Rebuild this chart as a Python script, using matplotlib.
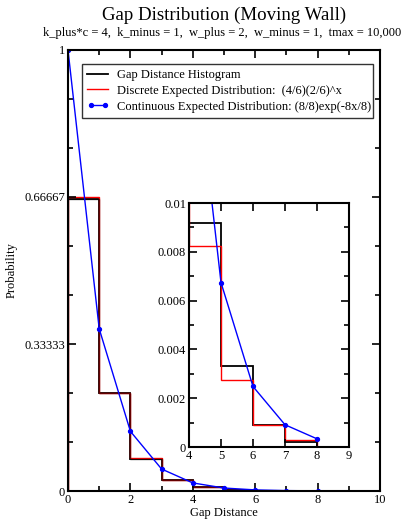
import matplotlib
matplotlib.use("Agg")
import matplotlib.pyplot as plt
from matplotlib.ticker import FixedLocator, MultipleLocator

plt.rcParams['font.family'] = ['Liberation Serif', 'DejaVu Serif']

edges = [0, 1, 2, 3, 4, 5, 6, 7, 8]
hist_vals = [0.662, 0.222, 0.073, 0.0245, 0.0092, 0.00333, 0.0009, 0.0002]
disc_vals = [0.66667, 0.22222, 0.07407, 0.02469, 0.00823, 0.00274, 0.000914, 0.000305]
cont_x = [0, 1, 2, 3, 4, 5, 6, 7, 8]
cont_y = [1.0, 0.3679, 0.1353, 0.0498, 0.0183, 0.00674, 0.00248, 0.000912, 0.000335]

main_yticks = [0, 0.33333, 0.66667, 1]
main_yticklabels = ["0", "0.33333", "0.66667", "1"]
main_xticks = [0, 2, 4, 6, 8, 10]
inset_xticks = [4, 5, 6, 7, 8, 9]
inset_yticks = [0, 0.002, 0.004, 0.006, 0.008, 0.01]
inset_yticklabels = ["0", "0.002", "0.004", "0.006", "0.008", "0.01"]

W, H = 405, 521
fig = plt.figure(figsize=(W / 100, H / 100), dpi=100)
FS = 9

def style(ax):
    for s in ax.spines.values():
        s.set_linewidth(1.5)
    ax.tick_params(which='both', direction='in', top=True, right=True,
                   labelsize=FS, width=1.2, pad=2)
    ax.tick_params(which='major', length=6)
    ax.tick_params(which='minor', length=3.5)

ax = fig.add_axes([68 / W, 1 - 491 / H, (380 - 68) / W, (491 - 50) / H])
ax.stairs(hist_vals, edges, baseline=0, color='black', lw=1.3,
          label='Gap Distance Histogram')
ax.stairs(disc_vals, edges, baseline=0, color='red', lw=1.0,
          label='Discrete Expected Distribution:  (4/6)(2/6)^x')
ax.stairs(hist_vals, edges, baseline=0, color='black', lw=1.0, alpha=0.6)
ax.plot(cont_x, cont_y, color='blue', lw=1.0, marker='o', ms=2.8,
        label='Continuous Expected Distribution: (8/8)exp(-8x/8)')
ax.set_xlim(0, 10)
ax.set_ylim(0, 1)
ax.xaxis.set_major_locator(FixedLocator(main_xticks))
ax.xaxis.set_minor_locator(MultipleLocator(1))
ax.yaxis.set_major_locator(FixedLocator(main_yticks))
ax.set_yticklabels(main_yticklabels)
ax.yaxis.set_minor_locator(MultipleLocator(1 / 9))
style(ax)
ax.set_xlabel('Gap Distance', fontsize=FS, labelpad=1)
ax.set_ylabel('Probability', fontsize=FS, labelpad=5)

leg = ax.legend(loc='upper left', mode='expand',
                bbox_to_anchor=(82 / W, 1 - 118 / H, (373 - 82) / W, (118 - 64) / H),
                bbox_transform=fig.transFigure, borderaxespad=0,
                fontsize=FS, handlelength=1.7, handletextpad=0.7,
                labelspacing=0.3, borderpad=0.4, fancybox=False,
                framealpha=1, edgecolor='#333333', numpoints=2)
leg.get_frame().set_linewidth(1.0)

cx = (68 + 380) / 2 / W
fig.text(cx, 1 - 15 / H, 'Gap Distribution (Moving Wall)', ha='center',
         va='center', fontsize=13.6)
fig.text(cx - 2 / W, 1 - 33 / H,
         'k_plus*c = 4,  k_minus = 1,  w_plus = 2,  w_minus = 1,  tmax = 10,000',
         ha='center', va='center', fontsize=FS)

ax2 = fig.add_axes([189 / W, 1 - 447 / H, (349 - 189) / W, (447 - 203) / H])
ax2.stairs(hist_vals, edges, baseline=0, color='black', lw=1.3)
ax2.stairs(disc_vals, edges, baseline=0, color='red', lw=1.0)
ax2.plot(cont_x, cont_y, color='blue', lw=1.0, marker='o', ms=2.8)
ax2.set_xlim(4, 9)
ax2.set_ylim(0, 0.01)
ax2.xaxis.set_major_locator(FixedLocator(inset_xticks))
ax2.yaxis.set_major_locator(FixedLocator(inset_yticks))
ax2.set_yticklabels(inset_yticklabels)
ax2.yaxis.set_minor_locator(MultipleLocator(0.001))
style(ax2)

fig.savefig('out.png', dpi=100)
